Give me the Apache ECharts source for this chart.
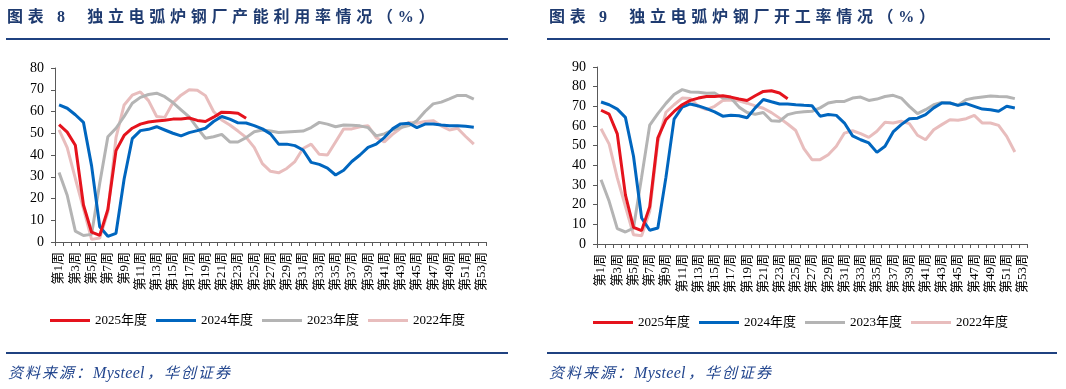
<!DOCTYPE html>
<html>
<head>
<meta charset="utf-8">
<script src="https://cdn.jsdelivr.net/npm/echarts@6/dist/echarts.min.js"></script>
<style>
  html, body { margin: 0; padding: 0; background: #fff; }
  #wrap { position: relative; width: 1066px; height: 389px; overflow: hidden; }
  #chart { position: absolute; left: 0; top: 0; width: 1066px; height: 389px; }
  .title { position: absolute; top: 7px; font-family: 'Liberation Serif', 'Noto Sans CJK SC', serif; font-weight: bold;
           font-size: 16px; line-height: 20px; letter-spacing: 4.7px; color: #1F3B70; white-space: pre; }
  .rule { position: absolute; height: 2px; background: #1F4180; }
  .src { position: absolute; top: 363px; font-family: 'Liberation Serif', 'Noto Sans CJK SC', serif; font-style: italic;
         font-size: 15px; line-height: 20px; letter-spacing: 2px; color: #24478F; white-space: pre; }
  .src .lat { letter-spacing: 0.3px; font-size: 16px; margin-right: 2px; }
</style>
</head>
<body>
<div id="wrap">
  <div id="chart"></div>
  <div class="title" style="left:7px;">图表 8  独立电弧炉钢厂产能利用率情况（%）</div>
  <div class="title" style="left:549px;">图表 9  独立电弧炉钢厂开工率情况（%）</div>
  <div class="rule" style="left:6px; width:502px; top:38px;"></div>
  <div class="rule" style="left:547px; width:503px; top:38px;"></div>
  <div class="rule" style="left:6px; width:502px; top:352px;"></div>
  <div class="rule" style="left:547px; width:510px; top:352px;"></div>
  <div class="src" style="left:8px;">资料来源：<span class="lat">Mysteel</span>，华创证券</div>
  <div class="src" style="left:549px;">资料来源：<span class="lat">Mysteel</span>，华创证券</div>
</div>
<script>
// ---- data ----
const weeks = [];
for (let i = 1; i <= 53; i++) weeks.push('第' + i + '周');

const seriesNames = ['2025年度', '2024年度', '2023年度', '2022年度'];

// 图表8 产能利用率
const cap2025 = [54, 50.5, 44.5, 17, 4.5, 3, 15, 42, 49, 52.3, 54.2, 55.2, 55.6, 56, 56.5, 56.6, 57, 55.9, 55.4, 57.4, 59.7, 59.5, 59.2, 56.9];
const cap2024 = [63, 61.5, 58.5, 55, 35, 7, 2.6, 4, 29, 47.5, 51.2, 51.8, 53, 51.5, 50, 48.8, 50.3, 51.2, 52.3, 55.4, 57.7, 56.5, 54.8, 54.7, 53.5, 52, 49.7, 45, 45, 44.3, 42.3, 36.6, 35.7, 34, 30.8, 33, 37, 40, 43.5, 45, 48, 52, 54.3, 54.6, 52.6, 54.2, 54.2, 53.8, 53.5, 53.4, 53.2, 52.8];
const cap2023 = [32, 21.5, 5, 3, 3.5, 27, 48.4, 52.3, 57.7, 63.8, 66.5, 67.8, 68.4, 66.8, 64.1, 60.8, 57.5, 52.5, 47.7, 48.4, 49.5, 46, 46, 48, 50.7, 51.5, 51, 50.3, 50.6, 50.8, 51, 52.6, 55, 54.2, 53, 53.8, 53.7, 53.4, 52.6, 48.8, 49.7, 51.5, 52.6, 53.5, 55.7, 60, 63.5, 64.3, 65.8, 67.4, 67.4, 65.7];
const cap2022 = [51.5, 43.4, 29.2, 15.4, 1.2, 1.8, 13.8, 48, 63, 67.5, 69, 65, 57.7, 57.3, 64, 67.5, 70, 69.8, 67.3, 60, 56.1, 53.8, 51, 48.1, 43.5, 36, 32.5, 31.8, 33.8, 37, 43, 45, 40.3, 40, 46, 52, 52, 53, 53.4, 48, 46, 49.5, 52.3, 55, 54.6, 55.4, 55.8, 53.4, 51.5, 52.3, 48.5, 45];

// 图表9 开工率
const run2025 = [68, 66, 56, 25, 8.5, 6.8, 19, 54, 63.2, 67.4, 70.8, 73, 74.2, 75, 75, 75.4, 74.7, 73.7, 73, 75.4, 77.6, 77.9, 76.8, 73.9];
const run2024 = [72.2, 70.8, 68.6, 64.4, 44.6, 13.2, 7, 8.1, 34, 63.5, 69.6, 71.2, 70.2, 68.8, 67.2, 65, 65.5, 65.2, 64.2, 69.2, 73.5, 72.3, 71.2, 71.2, 70.8, 70.5, 70.3, 65, 65.8, 65.4, 61.5, 55, 53, 51.4, 46.6, 49.7, 57, 60.7, 63.7, 64, 65.8, 69.2, 71.7, 71.7, 70.5, 71.4, 70, 68.6, 68.3, 67.5, 70, 69.2];
const run2023 = [32.7, 21.7, 7.8, 6.1, 8.1, 34, 60.5, 66.3, 71.5, 76, 78.5, 77.3, 77.2, 76.6, 76.8, 74.2, 74.2, 69.6, 66.9, 66, 66.9, 62.7, 62.4, 65.8, 66.8, 67.3, 67.5, 69.2, 71.7, 72.5, 72.5, 74.2, 74.7, 73, 73.7, 75, 75.6, 74.2, 70, 66.3, 68.3, 70.8, 72, 71.7, 70.5, 73.4, 74.2, 74.7, 75.2, 75, 74.9, 73.9];
const run2022 = [58.6, 50.8, 33.6, 19.2, 4.7, 4.2, 16.6, 52, 67, 70.8, 74.2, 74, 70, 68.3, 70, 73, 73.2, 72.8, 71.6, 70.2, 69, 66.8, 64, 61, 57.7, 48.5, 42.9, 42.9, 45.4, 49.7, 56.4, 57.6, 56.1, 54.2, 57.3, 61.9, 61.5, 62.4, 61.2, 55.3, 53, 58.1, 60.7, 63.2, 62.9, 63.7, 65.4, 61.5, 61.5, 60.3, 54.7, 46.8];

// ---- chart ----
const colors = ['#E5131D', '#0066BF', '#B4B4B4', '#E8BDBD'];
const FONT = "'Liberation Serif', 'Noto Sans CJK SC', serif";

function xAxis(gi) {
  return {
    type: 'category', gridIndex: gi, data: weeks, boundaryGap: true,
    axisLine: { lineStyle: { color: '#595959', width: 1 } },
    axisTick: { show: true, interval: 0, length: 4, lineStyle: { color: '#595959' } },
    axisLabel: { interval: 1, rotate: 90, margin: 10, color: '#000', fontFamily: FONT, fontSize: 13 },
    splitLine: { show: false }
  };
}
function yAxis(gi, max) {
  return {
    type: 'value', gridIndex: gi, min: 0, max: max, interval: 10,
    axisLine: { show: true, lineStyle: { color: '#595959', width: 1 } },
    axisTick: { show: true, length: 4, lineStyle: { color: '#595959' } },
    axisLabel: { margin: 11, color: '#000', fontFamily: FONT, fontSize: 14 },
    splitLine: { show: false }
  };
}
function line(name, data, gi, ci, z) {
  return {
    name: name, type: 'line', xAxisIndex: gi, yAxisIndex: gi, data: data,
    showSymbol: false, symbol: 'none', smooth: false, z: z,
    lineStyle: { color: colors[ci], width: 3 }, itemStyle: { color: colors[ci] },
    emphasis: { disabled: true }
  };
}
function legend(left, top) {
  return {
    left: left, top: top, orient: 'horizontal', data: seriesNames,
    icon: 'rect', itemWidth: 40, itemHeight: 3, itemGap: 9,
    textStyle: { fontFamily: FONT, fontSize: 13, color: '#000' }
  };
}

const chart = echarts.init(document.getElementById('chart'), null, { renderer: 'canvas' });
chart.setOption({
  animation: false,
  backgroundColor: '#fff',
  grid: [
    { left: 55, top: 68, width: 431, height: 174 },
    { left: 597, top: 67, width: 430, height: 177 }
  ],
  xAxis: [xAxis(0), xAxis(1)],
  yAxis: [yAxis(0, 80), yAxis(1, 90)],
  legend: [legend(45, 309), legend(588, 311)],
  series: [
    line(seriesNames[3], cap2022, 0, 3, 2),
    line(seriesNames[2], cap2023, 0, 2, 3),
    line(seriesNames[1], cap2024, 0, 1, 4),
    line(seriesNames[0], cap2025, 0, 0, 5),
    line(seriesNames[3], run2022, 1, 3, 2),
    line(seriesNames[2], run2023, 1, 2, 3),
    line(seriesNames[1], run2024, 1, 1, 4),
    line(seriesNames[0], run2025, 1, 0, 5)
  ]
});
</script>
</body>
</html>
